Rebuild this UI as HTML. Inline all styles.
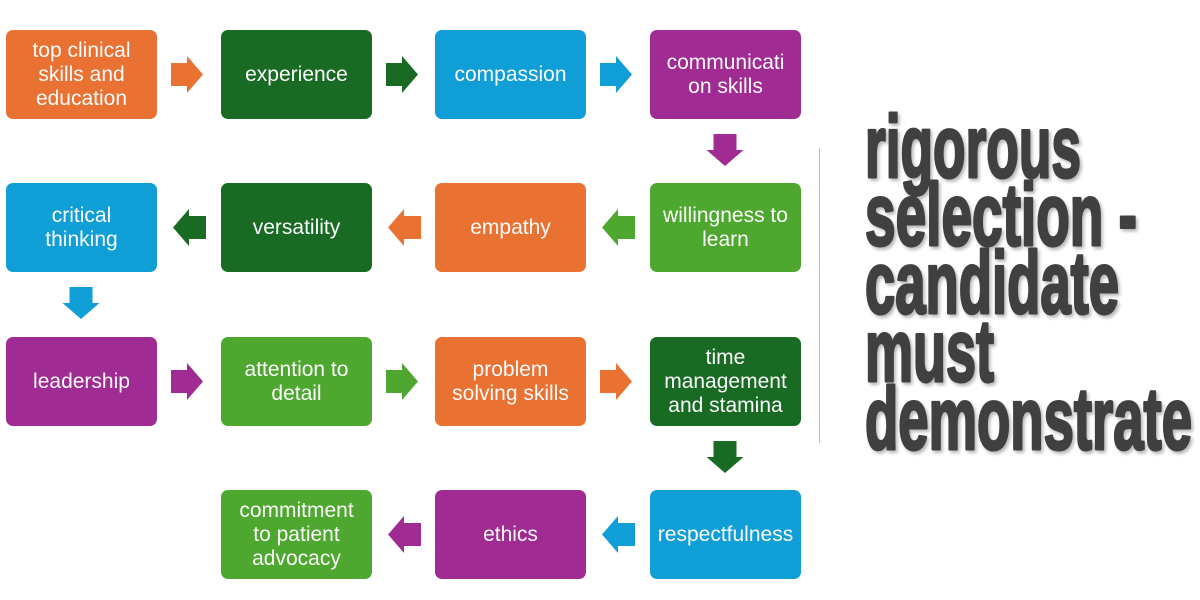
<!DOCTYPE html>
<html>
<head>
<meta charset="utf-8">
<style>
  html, body { margin:0; padding:0; background:#fff; }
  body { width:1200px; height:600px; position:relative; overflow:hidden; font-family:"Liberation Sans", sans-serif; }
  .box { position:absolute; width:151px; height:89px; border-radius:7px; display:flex; align-items:center; justify-content:center; text-align:center; color:#fbfbfb; font-size:21px; line-height:24px; }
  .o { background:#E97132; }
  .dg { background:#196B24; }
  .b { background:#0F9ED5; }
  .p { background:#A02B93; }
  .g { background:#4EA72E; }
  svg { position:absolute; left:0; top:0; }
</style>
</head>
<body>
<!-- Row 1 -->
<div class="box o" style="left:6px;top:30px;">top clinical<br>skills and<br>education</div>
<div class="box dg" style="left:221px;top:30px;">experience</div>
<div class="box b" style="left:435px;top:30px;">compassion</div>
<div class="box p" style="left:650px;top:30px;">communicati<br>on skills</div>
<!-- Row 2 -->
<div class="box b" style="left:6px;top:183px;">critical<br>thinking</div>
<div class="box dg" style="left:221px;top:183px;">versatility</div>
<div class="box o" style="left:435px;top:183px;">empathy</div>
<div class="box g" style="left:650px;top:183px;">willingness to<br>learn</div>
<!-- Row 3 -->
<div class="box p" style="left:6px;top:337px;">leadership</div>
<div class="box g" style="left:221px;top:337px;">attention to<br>detail</div>
<div class="box o" style="left:435px;top:337px;">problem<br>solving skills</div>
<div class="box dg" style="left:650px;top:337px;">time<br>management<br>and stamina</div>
<!-- Row 4 -->
<div class="box g" style="left:221px;top:490px;">commitment<br>to patient<br>advocacy</div>
<div class="box p" style="left:435px;top:490px;">ethics</div>
<div class="box b" style="left:650px;top:490px;">respectfulness</div>

<svg width="1200" height="600" viewBox="0 0 1200 600">
  <defs>
    <filter id="sh" x="-10%" y="-10%" width="120%" height="130%">
      <feDropShadow dx="2" dy="2.5" stdDeviation="1.5" flood-color="#000" flood-opacity="0.28"/>
    </filter>
  </defs>
  <!-- Row 1 right arrows (cy 74.5) -->
  <polygon fill="#E97132" points="171,63 187,63 187,56 203,74.5 187,93 187,86 171,86"/>
  <polygon fill="#196B24" points="386,63 402,63 402,56 418,74.5 402,93 402,86 386,86"/>
  <polygon fill="#0F9ED5" points="600,63 616,63 616,56 632,74.5 616,93 616,86 600,86"/>
  <!-- Down arrow col4 row1->2 -->
  <polygon fill="#A02B93" points="713.5,134 736.5,134 736.5,150 743.5,150 725,166 706.5,150 713.5,150"/>
  <!-- Row 2 left arrows (cy 227.5) -->
  <polygon fill="#196B24" points="173,227.5 189,209 189,216 206,216 206,239 189,239 189,246"/>
  <polygon fill="#E97132" points="388,227.5 404,209 404,216 421,216 421,239 404,239 404,246"/>
  <polygon fill="#4EA72E" points="602,227.5 618,209 618,216 635,216 635,239 618,239 618,246"/>
  <!-- Down arrow col1 row2->3 -->
  <polygon fill="#0F9ED5" points="69.5,287 92.5,287 92.5,303 99.5,303 81,319 62.5,303 69.5,303"/>
  <!-- Row 3 right arrows (cy 381.5) -->
  <polygon fill="#A02B93" points="171,370 187,370 187,363 203,381.5 187,400 187,393 171,393"/>
  <polygon fill="#4EA72E" points="386,370 402,370 402,363 418,381.5 402,400 402,393 386,393"/>
  <polygon fill="#E97132" points="600,370 616,370 616,363 632,381.5 616,400 616,393 600,393"/>
  <!-- Down arrow col4 row3->4 -->
  <polygon fill="#196B24" points="713.5,441 736.5,441 736.5,457 743.5,457 725,473 706.5,457 713.5,457"/>
  <!-- Row 4 left arrows (cy 534.5) -->
  <polygon fill="#A02B93" points="388,534.5 404,516 404,523 421,523 421,546 404,546 404,553"/>
  <polygon fill="#0F9ED5" points="602,534.5 618,516 618,523 635,523 635,546 618,546 618,553"/>

  <!-- divider -->
  <line x1="819.5" y1="148" x2="819.5" y2="443" stroke="#bfbfbf" stroke-width="1"/>

  <!-- Big title -->
  <g filter="url(#sh)" font-family="Liberation Sans, sans-serif" font-weight="bold" font-size="88" fill="#404040" stroke="#404040" stroke-width="3" stroke-linejoin="round">
    <text x="865" y="177" textLength="216" lengthAdjust="spacingAndGlyphs">rigorous</text>
    <text x="865" y="245" textLength="272" lengthAdjust="spacingAndGlyphs">selection -</text>
    <text x="865" y="313" textLength="254" lengthAdjust="spacingAndGlyphs">candidate</text>
    <text x="865" y="381" textLength="129" lengthAdjust="spacingAndGlyphs">must</text>
    <text x="865" y="449" textLength="327" lengthAdjust="spacingAndGlyphs">demonstrate</text>
  </g>
</svg>
</body>
</html>
